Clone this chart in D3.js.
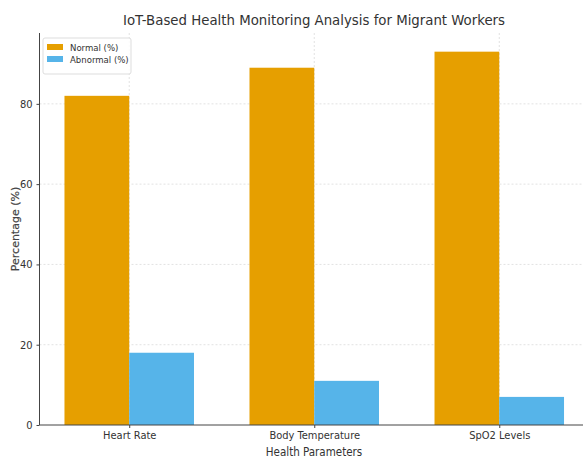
<!DOCTYPE html>
<html><head><meta charset="utf-8">
<script src="https://cdn.jsdelivr.net/npm/d3@7"></script>
<style>body{margin:0;background:#fff}svg{display:block}text{font-family:"DejaVu Sans Condensed","DejaVu Sans",sans-serif}</style>
</head><body><svg id="c" width="583" height="460"></svg>
<script>
const categories = ["Heart Rate", "Body Temperature", "SpO2 Levels"];
const normal = [82, 89, 93];
const abnormal = [18, 11, 7];
const seriesNames = ["Normal (%)", "Abnormal (%)"];
const yTicks = [0, 20, 40, 60, 80];
const colors = ["#E69F00", "#56B4E9"];

(function(){
const svg = d3.select("#c");
const mL = 39.5, mR = 589, mT = 33, mB = 425;
const x = d3.scaleLinear().domain([-0.485, 2.485]).range([mL, mR]);
const y = d3.scaleLinear().domain([0, 97.65]).range([mB, mT]);
const bw = 0.35;

const g = svg.append("g");
g.selectAll(".hg").data(yTicks.slice(1)).join("line")
  .attr("x1", mL).attr("x2", mR).attr("y1", d => y(d)).attr("y2", d => y(d))
  .attr("stroke", "#e2e2e2").attr("stroke-dasharray", "2,2").attr("stroke-width", 1);
g.selectAll(".vg").data(categories).join("line")
  .attr("x1", (d,i) => x(i)).attr("x2", (d,i) => x(i)).attr("y1", mT).attr("y2", mB)
  .attr("stroke", "#e2e2e2").attr("stroke-dasharray", "2,2").attr("stroke-width", 1);

const series = [normal, abnormal];
series.forEach((vals, s) => {
  svg.append("g").selectAll("rect").data(vals).join("rect")
    .attr("x", (d,i) => x(i - bw + s*bw))
    .attr("width", x(bw) - x(0))
    .attr("y", d => y(d))
    .attr("height", d => mB - y(d))
    .attr("fill", colors[s]);
});

const yAxis = d3.axisLeft(y).tickValues(yTicks).tickSize(3).tickPadding(4);
const ya = svg.append("g").attr("transform", `translate(${mL},0)`).call(yAxis);
ya.select(".domain").attr("stroke", "#444").attr("d", `M0,${mT}V${mB}`);
ya.selectAll("text").attr("font-size", 11).attr("fill", "#333");
ya.selectAll(".tick line").attr("stroke", "#444");

const xAxis = d3.axisBottom(x).tickValues([0,1,2]).tickFormat((d) => categories[d]).tickSize(3).tickPadding(3);
const xa = svg.append("g").attr("transform", `translate(0,${mB})`).call(xAxis);
xa.select(".domain").attr("stroke", "#444").attr("d", `M${mL},0H${mR}`);
xa.selectAll("text").attr("font-size", 11).attr("fill", "#333");
xa.selectAll(".tick line").attr("stroke", "#444");

svg.append("text").attr("x", 314).attr("y", 25).attr("text-anchor", "middle")
  .attr("font-size", 14.8).attr("fill", "#333").text("IoT-Based Health Monitoring Analysis for Migrant Workers");
svg.append("text").attr("x", 314).attr("y", 456).attr("text-anchor", "middle")
  .attr("font-size", 11.5).attr("fill", "#333").text("Health Parameters");
svg.append("text").attr("transform", "translate(18.5,229) rotate(-90)").attr("text-anchor", "middle")
  .style("font-family", "'DejaVu Sans', sans-serif")
  .attr("font-size", 11).attr("fill", "#444").attr("stroke", "#444").attr("stroke-width", 0.2).text("Percentage (%)");

const lg = svg.append("g").attr("transform", "translate(43,38)");
lg.append("rect").attr("width", 88).attr("height", 36).attr("rx", 2)
  .attr("fill", "#fff").attr("fill-opacity", 0.85).attr("stroke", "#ddd");
seriesNames.forEach((n, i) => {
  lg.append("rect").attr("x", 4).attr("y", 6 + i*12).attr("width", 16).attr("height", 6).attr("fill", colors[i]);
  lg.append("text").attr("x", 27).attr("y", 12.5 + i*12).attr("font-size", 9.5).attr("fill", "#333").text(n);
});
})();
</script></body></html>
